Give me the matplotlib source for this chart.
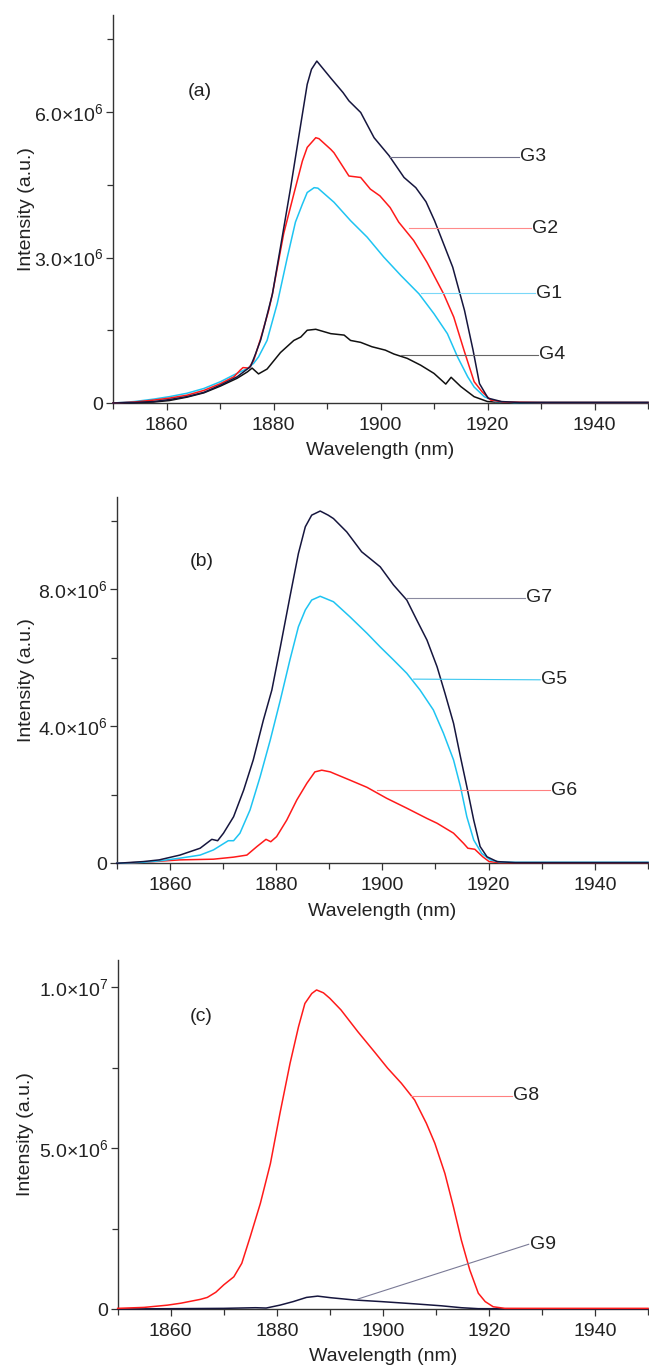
import matplotlib
matplotlib.use("Agg")
import matplotlib.pyplot as plt
from matplotlib.ticker import MultipleLocator, FuncFormatter
import numpy as np

plt.rcParams['font.family'] = ['Liberation Sans', 'DejaVu Sans']
plt.rcParams['mathtext.fontset'] = 'custom'
plt.rcParams['mathtext.rm'] = 'Liberation Sans'
plt.rcParams['mathtext.it'] = 'Liberation Sans:italic'

# ---------------- data (intensity in units of 1e6 a.u.) ----------------
# Panel (a)
g3_x = [1850, 1854, 1857.6, 1860.5, 1863.8, 1867, 1870.1, 1873.2, 1875.7, 1876.6, 1877.6, 1878.2, 1879.8,
        1881.3, 1883.2, 1885.1, 1886.3, 1887.1, 1888.1, 1890.7, 1893, 1894.1, 1896.3, 1898.8, 1901.6,
        1904.4, 1906.6, 1908.5, 1910.1, 1913.5, 1915.7, 1917.3, 1918.5, 1920.1, 1922.6, 1926, 1935, 1950]
g3_y = [0.0, 0.01, 0.03, 0.07, 0.13, 0.22, 0.37, 0.54, 0.75, 1.0, 1.30, 1.55, 2.25,
        3.21, 4.44, 5.75, 6.57, 6.88, 7.05, 6.70, 6.40, 6.23, 5.99, 5.47, 5.10,
        4.65, 4.44, 4.15, 3.76, 2.80, 1.91, 1.09, 0.40, 0.10, 0.03, 0.01, 0.01, 0.01]

g2_x = [1850, 1854, 1857.6, 1860.5, 1863.8, 1867, 1870.1, 1872.6, 1873.8, 1874.3, 1875.4, 1876.3, 1877.6,
        1879.1, 1879.8, 1881.9, 1883.8, 1885.4, 1886.3, 1887.9, 1888.5, 1890.7, 1891.3, 1894.1, 1896.3,
        1898.1, 1899.9, 1901.8, 1903.4, 1906.2, 1908.7, 1911.8, 1913.7, 1915.6, 1917.5, 1919.0, 1920.6,
        1923, 1930, 1950]
g2_y = [0.0, 0.02, 0.06, 0.10, 0.16, 0.26, 0.40, 0.54, 0.68, 0.73, 0.72, 0.88, 1.33,
        1.91, 2.25, 3.49, 4.31, 4.99, 5.27, 5.47, 5.45, 5.23, 5.16, 4.68, 4.65,
        4.41, 4.27, 4.03, 3.73, 3.35, 2.90, 2.25, 1.77, 1.09, 0.44, 0.23, 0.06,
        0.02, 0.01, 0.01]

g1_x = [1850, 1854, 1857.6, 1860.5, 1863.8, 1867, 1870.1, 1872.6, 1875.1, 1876.3, 1877.2, 1878.8, 1880.7,
        1882.6, 1884.1, 1885.4, 1886.3, 1887.6, 1888.3, 1891.3, 1894.4, 1897.5, 1900.6, 1903.8, 1907.2,
        1910.0, 1912.5, 1914.4, 1916.3, 1917.5, 1919.4, 1921.5, 1925, 1950]
g1_y = [0.0, 0.03, 0.08, 0.13, 0.20, 0.30, 0.44, 0.58, 0.71, 0.82, 0.95, 1.29, 2.05,
        3.01, 3.73, 4.10, 4.34, 4.44, 4.43, 4.14, 3.76, 3.42, 3.01, 2.63, 2.25,
        1.84, 1.43, 0.95, 0.54, 0.33, 0.13, 0.03, 0.01, 0.01]

g4_x = [1850, 1854, 1857.6, 1860.5, 1863.8, 1867, 1870.1, 1873.2, 1875.1, 1876.0, 1877.2, 1878.8, 1881.3,
        1883.8, 1885.1, 1886.3, 1887.9, 1890.7, 1893.2, 1894.4, 1896.3, 1898.4, 1900.9, 1902.5, 1905.0,
        1907.5, 1910.0, 1912.2, 1913.2, 1915.0, 1917.5, 1920, 1923, 1950]
g4_y = [0.0, 0.01, 0.02, 0.05, 0.12, 0.21, 0.35, 0.51, 0.64, 0.72, 0.60, 0.70, 1.04,
        1.29, 1.36, 1.50, 1.52, 1.43, 1.40, 1.29, 1.25, 1.16, 1.09, 1.01, 0.92,
        0.78, 0.61, 0.39, 0.53, 0.34, 0.13, 0.03, 0.01, 0.01]

# Panel (b)
g7_x = [1850, 1855, 1858, 1861.9, 1865.7, 1867.9, 1869.0, 1870.1, 1872.0, 1873.9, 1875.7, 1877.6, 1879.2,
        1880.8, 1882.6, 1884.2, 1885.5, 1886.7, 1888.3, 1889.8, 1890.8, 1893.3, 1896.1, 1897.7, 1899.6,
        1902.1, 1904.6, 1906.5, 1908.4, 1910.3, 1911.8, 1913.4, 1914.7, 1915.9, 1917.2, 1918.4, 1919.7,
        1921.6, 1925, 1950]
g7_y = [0.0, 0.05, 0.10, 0.24, 0.44, 0.70, 0.66, 0.88, 1.36, 2.14, 3.02, 4.18, 5.06,
        6.32, 7.78, 9.05, 9.83, 10.17, 10.29, 10.17, 10.07, 9.68, 9.10, 8.90, 8.66,
        8.13, 7.69, 7.10, 6.52, 5.74, 4.96, 4.09, 3.11, 2.24, 1.26, 0.49, 0.19,
        0.05, 0.02, 0.02]

g5_x = [1850, 1855, 1858, 1861.9, 1865.7, 1868.2, 1871.0, 1872.0, 1873.2, 1875.1, 1877.0, 1878.9, 1880.8,
        1882.6, 1884.2, 1885.5, 1886.7, 1888.3, 1890.8, 1893.9, 1897.1, 1899.6, 1902.1, 1904.6, 1907.1,
        1909.6, 1911.5, 1913.4, 1914.7, 1915.9, 1917.2, 1918.7, 1920.3, 1922, 1925, 1950]
g5_y = [0.0, 0.03, 0.07, 0.15, 0.24, 0.39, 0.66, 0.66, 0.88, 1.56, 2.53, 3.60, 4.77,
        5.94, 6.91, 7.40, 7.69, 7.80, 7.64, 7.20, 6.72, 6.32, 5.94, 5.55, 5.06,
        4.48, 3.80, 3.02, 2.24, 1.36, 0.68, 0.29, 0.10, 0.04, 0.03, 0.03]

g6_x = [1850, 1855, 1861.9, 1868.2, 1872.0, 1874.5, 1876.4, 1878.1, 1879.0, 1880.1, 1882.0, 1883.9, 1885.8,
        1887.3, 1888.6, 1890.2, 1890.8, 1893.9, 1897.1, 1900.8, 1904.6, 1908.4, 1910.3, 1913.4, 1915.3,
        1916.1, 1917.4, 1918.9, 1920.1, 1922, 1950]
g6_y = [0.0, 0.03, 0.10, 0.12, 0.18, 0.24, 0.49, 0.70, 0.63, 0.78, 1.26, 1.85, 2.34,
        2.67, 2.72, 2.67, 2.63, 2.43, 2.22, 1.90, 1.61, 1.31, 1.17, 0.88, 0.58,
        0.44, 0.41, 0.19, 0.05, 0.02, 0.02]

# Panel (c)
g8_x = [1850, 1855, 1859.4, 1861.9, 1865.6, 1866.9, 1868.5, 1870.0, 1871.9, 1873.4, 1875.0, 1876.9, 1878.8,
        1880.6, 1882.5, 1884.1, 1885.3, 1886.6, 1887.5, 1888.8, 1890.0, 1892.1, 1895.3, 1898.4, 1900.9,
        1903.5, 1906.0, 1908.2, 1909.8, 1911.7, 1913.3, 1914.8, 1916.4, 1918.0, 1919.3, 1920.8, 1923, 1950]
g8_y = [0.02, 0.05, 0.12, 0.18, 0.30, 0.36, 0.52, 0.75, 1.00, 1.42, 2.25, 3.28, 4.52,
        6.08, 7.63, 8.77, 9.49, 9.80, 9.91, 9.82, 9.65, 9.29, 8.61, 7.99, 7.48,
        7.01, 6.49, 5.77, 5.15, 4.21, 3.18, 2.14, 1.21, 0.49, 0.23, 0.07, 0.02, 0.02]

g9_x = [1850, 1860, 1870, 1876, 1878, 1880.6, 1883.1, 1885.6, 1887.7, 1890.2, 1894.6, 1899.7, 1906.0,
        1911.0, 1914.8, 1918, 1950]
g9_y = [0.0, 0.01, 0.02, 0.04, 0.03, 0.12, 0.23, 0.36, 0.40, 0.35, 0.28, 0.23, 0.16,
        0.10, 0.04, 0.01, 0.0]

x_ticks = [1860, 1880, 1900, 1920, 1940]
panel_labels = ['(a)', '(b)', '(c)']

NAVY = '#16163e'
RED = '#ff1a1a'
CYAN = '#1ec4f2'
BLACK = '#111111'
AXC = '#333333'
TXT = '#222222'

fig = plt.figure(figsize=(6.49, 13.67), dpi=100)

rects = [
    [113 / 649, 1 - 403 / 1367, (648 - 113) / 649, (403 - 15) / 1367],
    [116.7 / 649, 1 - 863.3 / 1367, (648 - 116.7) / 649, (863.3 - 497) / 1367],
    [117.7 / 649, 1 - 1309 / 1367, (648 - 117.7) / 649, (1309 - 960) / 1367],
]
ylims = [8.0e6, 1.07e7, 1.084e7]
ymajor = [3e6, 4e6, 5e6]
ylab_x = [-0.146, -0.154, -0.157]


def fmt(v, pos):
    if abs(v) < 1:
        return '0'
    e = int(np.floor(np.log10(abs(v)) + 1e-9))
    m = v / 10 ** e
    return f'{m:.1f}\u00d710$^{{{e}}}$'


axes = []
for i, r in enumerate(rects):
    ax = fig.add_axes(r)
    ax.set_xlim(1850, 1950)
    ax.set_ylim(0, ylims[i])
    for s in ['top', 'right']:
        ax.spines[s].set_visible(False)
    for s in ['left', 'bottom']:
        ax.spines[s].set_color(AXC)
        ax.spines[s].set_linewidth(1.0)
    ax.set_xticks(x_ticks)
    ax.xaxis.set_minor_locator(MultipleLocator(10))
    ax.yaxis.set_major_locator(MultipleLocator(ymajor[i]))
    ax.yaxis.set_minor_locator(MultipleLocator(ymajor[i] / 2))
    ax.yaxis.set_major_formatter(FuncFormatter(fmt))
    ax.tick_params(which='major', direction='out', length=5, width=0.9, color=AXC,
                   labelsize=14, labelcolor=TXT)
    ax.tick_params(axis='y', which='major', pad=2)
    ax.tick_params(axis='x', which='major', pad=5)
    ax.tick_params(which='minor', direction='out', length=4, width=0.9, color=AXC)
    ax.set_xlabel('Wavelength (nm)', fontsize=14, color=TXT, labelpad=6)
    ax.set_ylabel('Intensity (a.u.)', fontsize=14, color=TXT)
    ax.yaxis.set_label_coords(ylab_x[i], 0.5)
    ax.patch.set_alpha(0)
    axes.append(ax)

S = 1e6
lw = 1.1


def curve(ax, x, y, c):
    ax.plot(x, np.array(y) * S, color=c, lw=lw, clip_on=False, zorder=3)


def label(ax, x0, y0, x1, y1, text, c):
    ax.plot([x0, x1], [y0 * S, y1 * S], color=c, lw=0.8, zorder=4, clip_on=False)
    ax.text(x1 + 0.2, y1 * S, text, fontsize=14, color=TXT, va='center', ha='left')


a, b, c = axes
curve(a, g4_x, g4_y, BLACK)
curve(a, g1_x, g1_y, CYAN)
curve(a, g2_x, g2_y, RED)
curve(a, g3_x, g3_y, NAVY)
label(a, 1901.6, 5.08, 1925.9, 5.08, 'G3', '#70708a')
label(a, 1905.3, 3.60, 1928.2, 3.60, 'G2', '#ff8a8a')
label(a, 1907.6, 2.26, 1928.8, 2.26, 'G1', '#7ad8f8')
label(a, 1903.8, 0.99, 1929.5, 0.99, 'G4', '#666666')

curve(b, g6_x, g6_y, RED)
curve(b, g5_x, g5_y, CYAN)
curve(b, g7_x, g7_y, NAVY)
label(b, 1904.6, 7.75, 1926.9, 7.75, 'G7', '#8a8aa0')
label(b, 1905.9, 5.38, 1929.7, 5.36, 'G5', '#3cc8f0')
label(b, 1899.0, 2.14, 1931.6, 2.14, 'G6', '#ff8080')

curve(c, g9_x, g9_y, NAVY)
curve(c, g8_x, g8_y, RED)
label(c, 1905.4, 6.62, 1924.3, 6.62, 'G8', '#ff8080')
label(c, 1895.3, 0.31, 1927.5, 2.01, 'G9', '#7a7a96')

a.text(1866.3, 6.43e6, panel_labels[0], fontsize=14, color=TXT, ha='center', va='center')
b.text(1866.1, 8.83e6, panel_labels[1], fontsize=14, color=TXT, ha='center', va='center')
c.text(1865.7, 9.07e6, panel_labels[2], fontsize=14, color=TXT, ha='center', va='center')

fig.savefig('out.png', dpi=100)
